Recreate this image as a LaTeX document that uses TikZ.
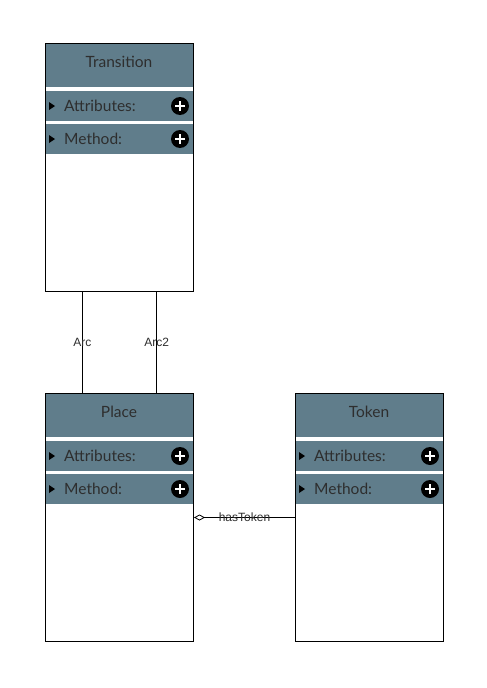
\documentclass[tikz,border=0pt]{standalone}
\usepackage{fontspec}
\setmainfont{Lato}
\newfontfamily\arcfont{Liberation Sans}
\usetikzlibrary{arrows.meta,calc}
\definecolor{headteal}{HTML}{607D8B}
\definecolor{labelgrey}{HTML}{2E2E2E}
\tikzset{
  classbox/.style={
    draw = black,
    line width = 1pt,
    minimum width = 148pt,
    minimum height = 248pt,
    inner sep = 0pt,
    anchor = north west
  },
  headbox/.style={
    fill = headteal,
    minimum width = 148pt,
    minimum height = 44pt,
    inner sep = 0pt,
    anchor = north west
  },
  rowbox/.style={
    fill = headteal,
    minimum width = 148pt,
    minimum height = 30pt,
    inner sep = 0pt,
    anchor = north west
  },
  classtext/.style={
    inner sep = 0pt,
    text = labelgrey,
    font = \fontsize{15.5}{18}\selectfont
  },
  addbtn/.style={
    shape = circle,
    fill = black,
    minimum size = 18pt,
    inner sep = 0pt
  },
  arcline/.style={
    draw = black,
    line width = 0.8pt
  },
  arclabel/.style={
    inner sep = 0pt,
    text = labelgrey,
    font = \arcfont\fontsize{12}{14}\selectfont
  },
  umlclass/.pic={
    % header and the two rows
    \node[headbox] (-head) at (0,0) {};
    \node[classtext] (-title) at (74,19) {#1};
    \node[rowbox] (-attr) at (0,48) {};
    \node[rowbox] (-meth) at (0,81) {};
    \node[classtext, anchor=west] (-attrtext) at ([xshift=19pt]-attr.west) {Attributes:};
    \node[classtext, anchor=west] (-methtext) at ([xshift=19pt]-meth.west) {Method:};
    % little triangles
    \fill (4,59) -- (10,63) -- (4,67) -- cycle;
    \fill (4,92) -- (10,96) -- (4,100) -- cycle;
    % add buttons
    \node[addbtn] (-attrbtn) at (135,63) {};
    \node[addbtn] (-methbtn) at (135,96) {};
    \draw[white, line width=2pt] ([xshift=-5pt]-attrbtn.center) -- ([xshift=5pt]-attrbtn.center);
    \draw[white, line width=2pt] ([yshift=-5pt]-attrbtn.center) -- ([yshift=5pt]-attrbtn.center);
    \draw[white, line width=2pt] ([xshift=-5pt]-methbtn.center) -- ([xshift=5pt]-methbtn.center);
    \draw[white, line width=2pt] ([yshift=-5pt]-methbtn.center) -- ([yshift=5pt]-methbtn.center);
    % outline
    \node[classbox] (-box) at (0,0) {};
  }
}

\begin{document}
\begin{tikzpicture}[x=1pt, y=-1pt]
    \fill[white] (0,0) rectangle (487,688);
    \useasboundingbox (0,0) rectangle (487,688);
    \pic (trans) at (45,43) {umlclass=Transition};
    \pic (place) at (45,393) {umlclass=Place};
    \pic (token) at (295,393) {umlclass=Token};
    \draw[arcline] ($(trans-box.south west)!0.25!(trans-box.south east)$)
        -- ($(place-box.north west)!0.25!(place-box.north east)$)
        node[midway, arclabel] (arcone) {Arc};
    \draw[arcline] ($(trans-box.south west)!0.75!(trans-box.south east)$)
        -- ($(place-box.north west)!0.75!(place-box.north east)$)
        node[midway, arclabel] (arctwo) {Arc2};
    \draw[arcline, {Diamond[open, length=11pt, width=6pt, line width=0.8pt]}-] (place-box.east)
        -- (token-box.west) node[pos=0.5, arclabel] (hastoken) {hasToken};
\end{tikzpicture}
\end{document}
